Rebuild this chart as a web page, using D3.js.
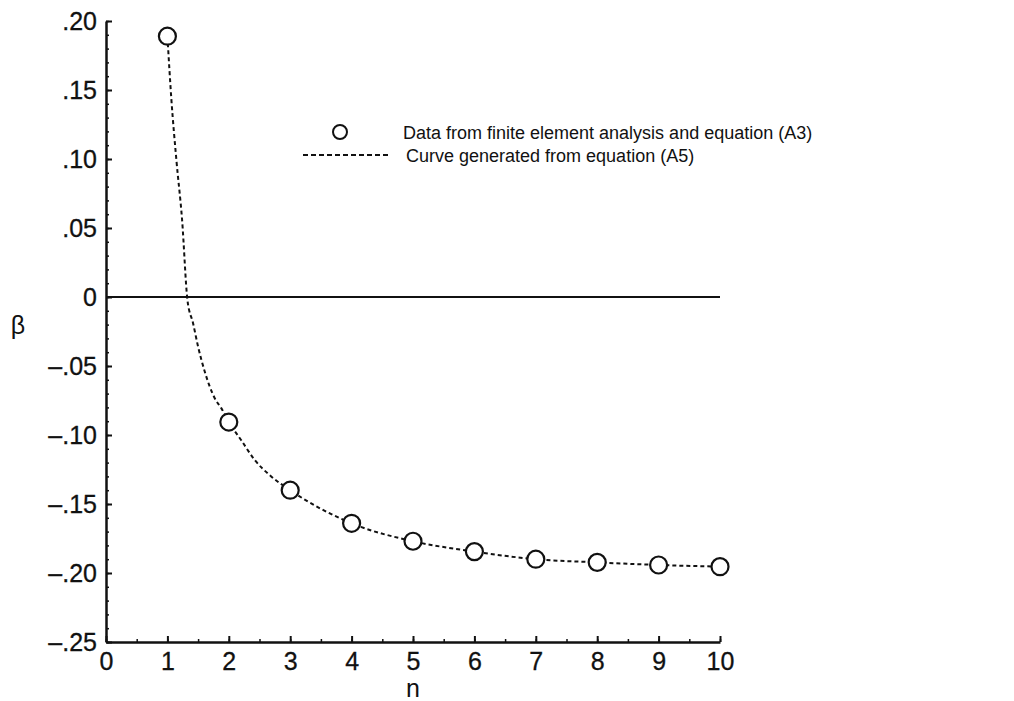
<!DOCTYPE html>
<html>
<head>
<meta charset="utf-8">
<script src="https://cdnjs.cloudflare.com/ajax/libs/d3/7.8.5/d3.min.js"></script>
<style>
  body { margin: 0; background: #fff; }
  text { font-family: "Liberation Sans", Arial, Helvetica, sans-serif; fill: #111; }
</style>
</head>
<body>
<svg id="chart" width="1014" height="701"></svg>
<script>
// values
var nValues = [1, 2, 3, 4, 5, 6, 7, 8, 9, 10];
var betaValues = [0.189, -0.0906, -0.140, -0.164, -0.177, -0.1845, -0.190, -0.1923, -0.1942, -0.1954];

// points along the dashed curve (eq. A5)
var curveN = [1, 1.065, 1.147, 1.239, 1.326, 1.418, 1.5, 1.608, 1.69, 1.771, 1.88, 2, 2.2, 2.42, 2.69, 3, 4, 5, 6, 7, 8, 9, 10];
var curveBeta = [0.189, 0.143, 0.099, 0.056, -0.002, -0.019, -0.036, -0.054, -0.065, -0.0734, -0.0807, -0.0906, -0.1036, -0.118, -0.130, -0.140, -0.164, -0.177, -0.1845, -0.190, -0.1923, -0.1942, -0.1954];

var xTicks = [0, 1, 2, 3, 4, 5, 6, 7, 8, 9, 10];
var yTicks = [-0.25, -0.20, -0.15, -0.10, -0.05, 0, 0.05, 0.10, 0.15, 0.20];

var legendLabels = ["Data from finite element analysis and equation (A3)", "Curve generated from equation (A5)"];

var svg = d3.select("#chart");

var x = d3.scaleLinear().domain([0, 10]).range([106, 720]);
var y = d3.scaleLinear().domain([-0.25, 0.20]).range([642, 21]);

function fmtY(d) {
  if (Math.abs(d) < 1e-9) return "0";
  return (d < 0 ? "\u2013" : "") + d3.format(".2f")(Math.abs(d)).slice(1);
}

// minor ticks on y (every .01)
var yMinor = d3.range(-25, 21).map(function(i) { return i / 100; });
svg.append("g")
  .attr("transform", "translate(" + x(0) + ",0)")
  .call(d3.axisLeft(y).tickValues(yMinor).tickSize(-3).tickFormat(""))
  .call(function(g) { g.select(".domain").remove(); })
  .selectAll("line").attr("stroke", "#111").attr("stroke-width", 1.5);

// minor ticks on x (every .5)
var xMinor = d3.range(0, 21).map(function(i) { return i / 2; });
svg.append("g")
  .attr("transform", "translate(0," + y(-0.25) + ")")
  .call(d3.axisBottom(x).tickValues(xMinor).tickSize(-3).tickFormat(""))
  .call(function(g) { g.select(".domain").remove(); })
  .selectAll("line").attr("stroke", "#111").attr("stroke-width", 1.5);

// y axis
var yAxis = svg.append("g")
  .attr("transform", "translate(" + x(0) + ",0)")
  .call(d3.axisLeft(y).tickValues(yTicks).tickSizeInner(-6).tickSizeOuter(0).tickPadding(9).tickFormat(fmtY));
yAxis.select(".domain").attr("stroke", "#111").attr("stroke-width", 2.5);
yAxis.selectAll("line").attr("stroke", "#111").attr("stroke-width", 2);
yAxis.selectAll("text").attr("font-size", 25).attr("fill", "#111")
  .attr("stroke", "#111").attr("stroke-width", 0.3)
  .style("font-family", "'Liberation Sans', Arial, sans-serif");

// x axis
var xAxis = svg.append("g")
  .attr("transform", "translate(0," + y(-0.25) + ")")
  .call(d3.axisBottom(x).tickValues(xTicks).tickSizeInner(-6).tickSizeOuter(0).tickPadding(10).tickFormat(d3.format("d")));
xAxis.select(".domain").attr("stroke", "#111").attr("stroke-width", 2.5);
xAxis.selectAll("line").attr("stroke", "#111").attr("stroke-width", 2);
xAxis.selectAll("text").attr("font-size", 25).attr("fill", "#111")
  .attr("stroke", "#111").attr("stroke-width", 0.3)
  .style("font-family", "'Liberation Sans', Arial, sans-serif");

// zero line
svg.append("line")
  .attr("x1", x(0)).attr("x2", x(10))
  .attr("y1", y(0)).attr("y2", y(0))
  .attr("stroke", "#111").attr("stroke-width", 2.2);

// axis titles
svg.append("text")
  .attr("x", 413).attr("y", 697)
  .attr("text-anchor", "middle")
  .attr("font-size", 25)
  .text("n");

svg.append("text")
  .attr("x", 18).attr("y", 334)
  .attr("text-anchor", "middle")
  .attr("font-size", 25)
  .text("\u03b2");

// dashed curve
var curveData = curveN.map(function(n, i) { return [n, curveBeta[i]]; });
var line = d3.line()
  .x(function(d) { return x(d[0]); })
  .y(function(d) { return y(d[1]); })
  .curve(d3.curveMonotoneX);

svg.append("path")
  .datum(curveData)
  .attr("d", line)
  .attr("fill", "none")
  .attr("stroke", "#111")
  .attr("stroke-width", 2)
  .attr("stroke-dasharray", "4,3");

// data circles
svg.selectAll(".pt")
  .data(nValues)
  .enter().append("circle")
    .attr("class", "pt")
    .attr("cx", function(d) { return x(d); })
    .attr("cy", function(d, i) { return y(betaValues[i]); })
    .attr("r", 8.5)
    .attr("fill", "#fff")
    .attr("stroke", "#111")
    .attr("stroke-width", 2.2);

// legend
var legend = svg.append("g");
legend.append("circle")
  .attr("cx", 340).attr("cy", 132).attr("r", 7)
  .attr("fill", "#fff").attr("stroke", "#111").attr("stroke-width", 2);
legend.append("line")
  .attr("x1", 303).attr("x2", 388).attr("y1", 155).attr("y2", 155)
  .attr("stroke", "#111").attr("stroke-width", 1.8).attr("stroke-dasharray", "5,3");
legend.selectAll(".lab")
  .data(legendLabels)
  .enter().append("text")
    .attr("class", "lab")
    .attr("x", function(d, i) { return i == 0 ? 403 : 406; })
    .attr("y", function(d, i) { return i == 0 ? 139 : 162; })
    .attr("font-size", 18)
    .text(function(d) { return d; });
</script>
</body>
</html>
